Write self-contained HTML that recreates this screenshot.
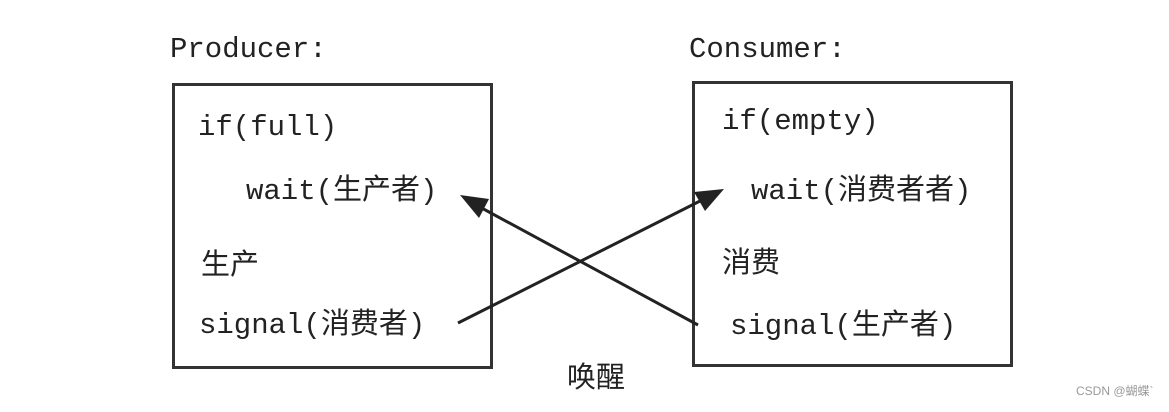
<!DOCTYPE html>
<html><head><meta charset="utf-8"><style>
body{margin:0;background:#fff;}
svg text{font-family:"Liberation Mono","Noto Sans CJK SC",monospace;font-size:29px;fill:#222;}
</style></head><body>
<svg width="1169" height="407" viewBox="0 0 1169 407" xmlns="http://www.w3.org/2000/svg">
<rect width="1169" height="407" fill="#fff"/>
<text x="170" y="57">Producer:</text>
<text x="689" y="57">Consumer:</text>
<rect x="173.5" y="84.5" width="318" height="283" fill="none" stroke="#333" stroke-width="3"/>
<rect x="693.5" y="82.5" width="318" height="283" fill="none" stroke="#333" stroke-width="3"/>
<text x="198" y="135">if(full)</text>
<text x="246" y="199">wait(生产者)</text>
<text x="201" y="274">生产</text>
<text x="199" y="333">signal(消费者)</text>
<text x="722" y="129">if(empty)</text>
<text x="751" y="199">wait(消费者者)</text>
<text x="722" y="272">消费</text>
<text x="730" y="334">signal(生产者)</text>
<text x="567" y="387">唤醒</text>
<line x1="698" y1="325" x2="478" y2="206" stroke="#222" stroke-width="3"/>
<polygon points="460,195 489,199 479,218" fill="#222"/>
<line x1="458" y1="323" x2="704" y2="199" stroke="#222" stroke-width="3"/>
<polygon points="724,189 705,211 694,192" fill="#222"/>
<text x="1076" y="395" style="font-family:'Liberation Sans','Noto Sans CJK SC',sans-serif;font-size:12px;fill:#999">CSDN @蝴蝶`</text>
</svg>
</body></html>
